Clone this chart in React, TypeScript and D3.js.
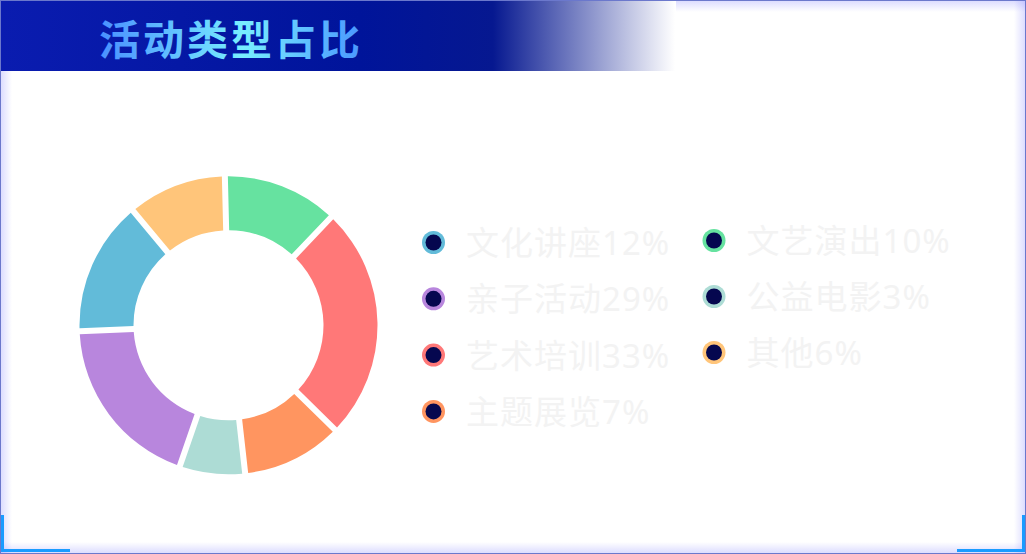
import React from 'react';
import * as d3 from 'd3';

const W = 1026;
const H = 554;

// Legend (column-major order) with the labels printed in the legend
const legendNames = ['文化讲座', '亲子活动', '艺术培训', '主题展览', '文艺演出', '公益电影', '其他'];
const legendPercents = ['12%', '29%', '33%', '7%', '10%', '3%', '6%'];
const legendColors = ['#62bbd9', '#b886dd', '#ff7878', '#ff9560', '#66e2a0', '#addcd5', '#ffc57a'];

// Donut slices in drawing order (clockwise from top)
const sliceNames = ['文艺演出', '艺术培训', '主题展览', '公益电影', '亲子活动', '文化讲座', '其他'];
const sliceValues = [12.5, 25.3, 10.9, 7.1, 19.1, 14.6, 10.7];

const title = '活动类型占比';

export default function App() {
  const cx = 228.5;
  const cy = 325.3;
  const outerR = 149;
  const innerR = 95;
  const gap = 6;

  const colorOf = (name: string) => legendColors[legendNames.indexOf(name)];

  const startA = (-1.4 * Math.PI) / 180;
  const pie = d3
    .pie<number>()
    .sort(null)
    .value((d) => d)
    .startAngle(startA)
    .endAngle(startA + 2 * Math.PI);
  const arcs = pie(sliceValues);
  const arcGen = d3
    .arc<d3.PieArcDatum<number>>()
    .innerRadius(innerR)
    .outerRadius(outerR)
    .padAngle(gap / outerR)
    .padRadius(outerR);

  const colX = [433.5, 714];
  const col1Y = d3.range(4).map((i) => 242.5 + i * 56.3);
  const col2Y = d3.range(3).map((i) => 240.5 + i * 56);
  const legendPos = legendNames.map((_, i) =>
    i < 4 ? { x: colX[0], y: col1Y[i] } : { x: colX[1], y: col2Y[i - 4] }
  );

  const glow = 'rgba(110,110,255,0.26)';

  return (
    <div style={{ position: 'fixed', left: 0, top: 0, width: W, height: H }}>
      <svg width={W} height={H} style={{ display: 'block' }}>
        <defs>
          <linearGradient id="bannerG" x1="0" y1="0" x2="675" y2="0" gradientUnits="userSpaceOnUse">
            <stop offset="0" stopColor="#0a1cb0" />
            <stop offset={360 / 675} stopColor="#00149a" />
            <stop offset={493 / 675} stopColor="#061890" />
            <stop offset="1" stopColor="#ffffff" />
          </linearGradient>
          <linearGradient id="titleG" x1="100" y1="0" x2="360" y2="0" gradientUnits="userSpaceOnUse">
            <stop offset="0" stopColor="#4a90ff" />
            <stop offset="0.55" stopColor="#78eeff" />
            <stop offset="1" stopColor="#4a98ff" />
          </linearGradient>
          <linearGradient id="gTop" x1="0" y1="0" x2="0" y2="1">
            <stop offset="0" stopColor={glow} />
            <stop offset="1" stopColor="rgba(110,110,255,0)" />
          </linearGradient>
          <linearGradient id="gBottom" x1="0" y1="1" x2="0" y2="0">
            <stop offset="0" stopColor={glow} />
            <stop offset="1" stopColor="rgba(110,110,255,0)" />
          </linearGradient>
          <linearGradient id="gLeft" x1="0" y1="0" x2="1" y2="0">
            <stop offset="0" stopColor={glow} />
            <stop offset="1" stopColor="rgba(110,110,255,0)" />
          </linearGradient>
          <linearGradient id="gRight" x1="1" y1="0" x2="0" y2="0">
            <stop offset="0" stopColor={glow} />
            <stop offset="1" stopColor="rgba(110,110,255,0)" />
          </linearGradient>
        </defs>

        <rect x={0} y={0} width={W} height={H} fill="#ffffff" />
        {/* inner glow */}
        <rect x={0} y={0} width={W} height={12} fill="url(#gTop)" />
        <rect x={0} y={H - 12} width={W} height={12} fill="url(#gBottom)" />
        <rect x={0} y={0} width={12} height={H} fill="url(#gLeft)" />
        <rect x={W - 12} y={0} width={12} height={H} fill="url(#gRight)" />

        {/* title banner */}
        <rect x={0} y={0} width={676} height={71} fill="url(#bannerG)" />
        <text
          x={99}
          y={37}
          dominantBaseline="central"
          fontFamily="'Noto Sans CJK SC', sans-serif"
          fontWeight={700}
          fontSize={41}
          letterSpacing={3}
          fill="url(#titleG)"
        >
          {title}
        </text>

        {/* frame */}
        <rect x={0.5} y={0.5} width={W - 1} height={H - 1} fill="none" stroke="#6b78cc" strokeWidth={1} />
        <rect x={1} y={515} width={3} height={37} fill="#1a9cff" />
        <rect x={1} y={549} width={69} height={3} fill="#1a9cff" />
        <rect x={W - 4} y={515} width={3} height={37} fill="#1a9cff" />
        <rect x={957} y={549} width={W - 1 - 957} height={3} fill="#1a9cff" />

        {/* donut */}
        <g transform={`translate(${cx},${cy})`}>
          {arcs.map((a, i) => (
            <path key={sliceNames[i]} d={arcGen(a) || ''} fill={colorOf(sliceNames[i])} />
          ))}
        </g>

        {/* legend */}
        {legendNames.map((name, i) => (
          <g key={name} transform={`translate(${legendPos[i].x},${legendPos[i].y})`}>
            <circle r={11.5} fill={legendColors[i]} />
            <circle r={8} fill="#05074f" />
            <text
              x={32.5}
              y={0}
              dominantBaseline="central"
              fontFamily="'Noto Sans', 'Noto Sans CJK SC', sans-serif"
              fontSize={33}
              letterSpacing={1}
              fill="#f3f3f3"
            >
              {name + legendPercents[i]}
            </text>
          </g>
        ))}
      </svg>
    </div>
  );
}
